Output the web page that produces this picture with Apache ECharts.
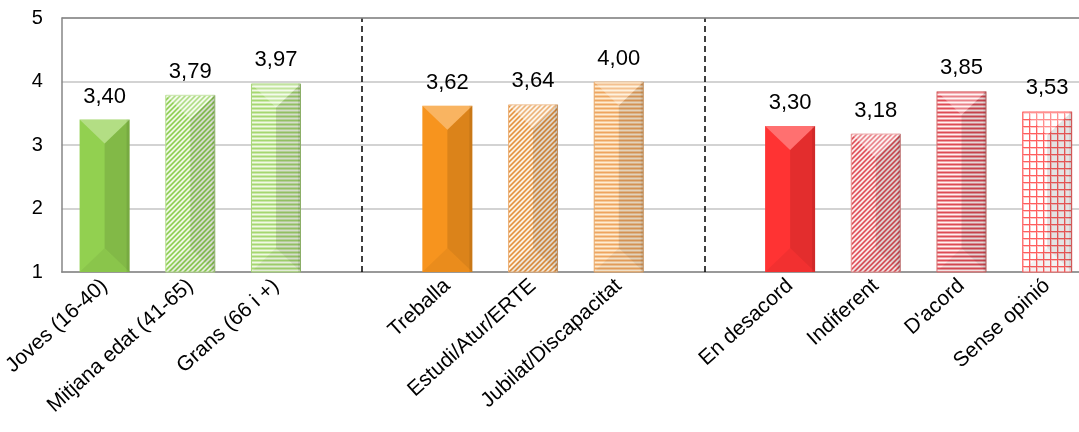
<!DOCTYPE html>
<html><head><meta charset="utf-8">
<script src="https://cdn.jsdelivr.net/npm/echarts@6/dist/echarts.min.js"></script>
<style>html,body{margin:0;padding:0;background:#fff;overflow:hidden}#c{width:1100px;height:432px}</style>
</head><body><div id="c"></div>
<script>
// ---- data ----
const categories = ['Joves (16-40)','Mitjana edat (41-65)','Grans (66 i +)','sep1',
  'Treballa','Estudi/Atur/ERTE','Jubilat/Discapacitat','sep2',
  'En desacord','Indiferent',"D'acord",'Sense opinió'];
const values = [3.40,3.79,3.97,null,3.62,3.64,4.00,null,3.30,3.18,3.85,3.53];
const yTicks = [1,2,3,4,5];
const separators = ['sep1','sep2'];

// ---- styles ----
const FONT = "'Liberation Sans', Arial, sans-serif";
const BAR_W = 50;
const yMin = yTicks[0], yMax = yTicks[yTicks.length-1];

function makePattern(w, h, fn) {
  const c = document.createElement('canvas');
  c.width = w; c.height = h;
  const ctx = c.getContext('2d');
  const img = ctx.createImageData(w, h);
  for (let y = 0; y < h; y++) for (let x = 0; x < w; x++) {
    const col = fn(x, y);
    const k = (y*w + x)*4;
    img.data[k] = col[0]; img.data[k+1] = col[1]; img.data[k+2] = col[2]; img.data[k+3] = 255;
  }
  ctx.putImageData(img, 0, 0);
  return { image: c, repeat: 'repeat' };
}
function mix(a, b, t) { return [0,1,2].map(i => Math.round(a[i]*t + b[i]*(1-t))); }
function diag(col, bg, p) {
  return makePattern(p, p, (x, y) => mix(col, bg, 0.5 + 0.5*Math.cos(2*Math.PI*(x+y)/p)));
}
function horiz(col, bg, p) {
  return makePattern(4, p, (x, y) => mix(col, bg, 0.5 + 0.5*Math.cos(2*Math.PI*y/p)));
}
function gridPat(col, bg, p) {
  return makePattern(p, p, (x, y) => (x === 0 || y === 0) ? col : ((x === 1 || y === 1) ? mix(col, bg, 0.35) : bg));
}

const barStyles = [
  { color: '#92d050' },
  { color: diag([140,205,80],[250,253,244],5), borderColor: '#b5dd8c' },
  { color: horiz([165,215,112],[240,249,228],4), borderColor: '#a8d47c' },
  null,
  { color: '#f7941e' },
  { color: diag([228,145,62],[255,250,240],5), borderColor: '#ecb27a' },
  { color: horiz([238,165,95],[254,236,210],4), borderColor: '#e8a868' },
  null,
  { color: '#ff3333' },
  { color: diag([222,75,85],[255,248,246],5), borderColor: '#e89090' },
  { color: horiz([222,75,85],[255,240,240],4), borderColor: '#d87070' },
  { color: gridPat([255,95,95],[255,255,255],7), borderColor: '#ff6666' }
];

const barData = values.map((v, i) => v == null ? '-' : {
  value: v,
  itemStyle: Object.assign({ borderWidth: barStyles[i].borderColor ? 1 : 0 }, barStyles[i])
});

const chart = echarts.init(document.getElementById('c'), null, { renderer: 'canvas' });
chart.setOption({
  animation: false,
  backgroundColor: '#ffffff',
  grid: { left: 60, top: 18, width: 1030, height: 254, containLabel: false },
  xAxis: {
    type: 'category',
    data: categories,
    axisLine: { show: true, lineStyle: { color: '#868686', width: 1.5 } },
    axisTick: { show: false },
    axisLabel: {
      interval: 0, rotate: 42, margin: 11,
      fontFamily: FONT, fontSize: 21, color: '#000',
      formatter: v => separators.includes(v) ? '' : v
    },
    splitLine: { show: false }
  },
  yAxis: {
    type: 'value', min: yMin, max: yMax, interval: 1,
    axisLine: { show: true, lineStyle: { color: '#868686', width: 1.5 } },
    axisTick: { show: false },
    axisLabel: { fontFamily: FONT, fontSize: 20, color: '#000', margin: 19 },
    splitLine: { show: true, lineStyle: { color: '#c4c4c4', width: 1.5 } }
  },
  series: [
    {
      type: 'bar',
      data: barData,
      barWidth: BAR_W,
      z: 2,
      label: {
        show: true, position: 'top', distance: 12,
        fontFamily: FONT, fontSize: 22, color: '#000',
        formatter: p => Number(p.value).toFixed(2).replace('.', ',')
      },
      markLine: {
        silent: true, symbol: ['none','none'], animation: false,
        label: { show: false },
        data: [
          ...separators.map(s => ({ xAxis: s, lineStyle: { type: [6,4], color: '#000', width: 1.5 } })),
          { yAxis: yMax, lineStyle: { type: 'solid', color: '#868686', width: 1.5 } }
        ]
      }
    },
    {
      type: 'custom',
      z: 3,
      silent: true,
      data: values.map((v, i) => [i, v == null ? NaN : v]),
      encode: { x: 0, y: 1 },
      renderItem: function (params, api) {
        const v = api.value(1);
        if (v == null || isNaN(v)) return null;
        const idx = api.value(0);
        const top = api.coord([idx, v]);
        const base = api.coord([idx, yMin]);
        const hw = BAR_W / 2;
        const cx = top[0];
        const yt = top[1], yb = base[1];
        const d = Math.min(hw - 1, (yb - yt) / 2);
        const xl = cx - hw, xr = cx + hw;
        return {
          type: 'group',
          children: [
            { type: 'polygon', shape: { points: [[cx, yt + d], [xr, yt], [xr, yb], [cx, yb - d]] },
              style: { fill: 'rgba(0,0,0,0.11)' } },
            { type: 'polygon', shape: { points: [[xl, yt], [xr, yt], [cx, yt + d]] },
              style: { fill: 'rgba(255,255,255,0.3)' } },
            { type: 'polygon', shape: { points: [[xl, yb], [cx, yb - d], [xr, yb]] },
              style: { fill: 'rgba(0,0,0,0.05)' } },
            { type: 'rect', shape: { x: xr - 3, y: yt, width: 3, height: yb - yt },
              style: { fill: 'rgba(0,0,0,0.08)' } }
          ]
        };
      }
    }
  ]
});
</script>
</body></html>
